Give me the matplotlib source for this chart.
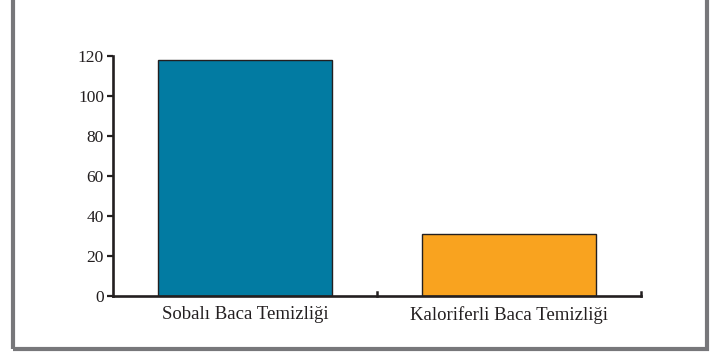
import matplotlib.pyplot as plt
from matplotlib.patches import Rectangle

categories = ["Sobalı Baca Temizliği", "Kaloriferli Baca Temizliği"]
values = [118, 31]
colors = ["#027ba2", "#f9a31f"]
yticks = [0, 20, 40, 60, 80, 100, 120]

plt.rcParams['font.family'] = ['Liberation Serif', 'DejaVu Serif']

fig = plt.figure(figsize=(7.15, 3.52), dpi=100)
ax = fig.add_axes([113 / 715, 56 / 352, 528 / 715, 240 / 352])

ax.bar(range(len(categories)), values, width=0.66, color=colors,
       edgecolor="#231f20", linewidth=1)
ax.set_xlim(-0.5, 1.5)
ax.set_ylim(0, 120)
ax.set_yticks(yticks)
ax.set_xticks([0, 1])
ax.set_xticklabels(categories)
ax.tick_params(axis='x', length=0, pad=7, labelsize=13.5, colors="#231f20")
ax.tick_params(axis='y', length=4, width=1.6, pad=2.5, labelsize=12.5, colors="#231f20")

# category boundary ticks pointing up
for x in [0.5, 1.5]:
    ax.plot([x, x], [0, 2.2], color="#231f20", lw=1.8, clip_on=False)

for s in ['top', 'right']:
    ax.spines[s].set_visible(False)
for s in ['left', 'bottom']:
    ax.spines[s].set_linewidth(1.9)
    ax.spines[s].set_color("#231f20")

# gray frame around the picture
fig.patches.append(Rectangle((12.5 / 715, 3.5 / 352), 694.5 / 715, 1.1,
                             transform=fig.transFigure, fill=False,
                             edgecolor="#77777a", linewidth=3))

fig.savefig("out.png", dpi=100)
